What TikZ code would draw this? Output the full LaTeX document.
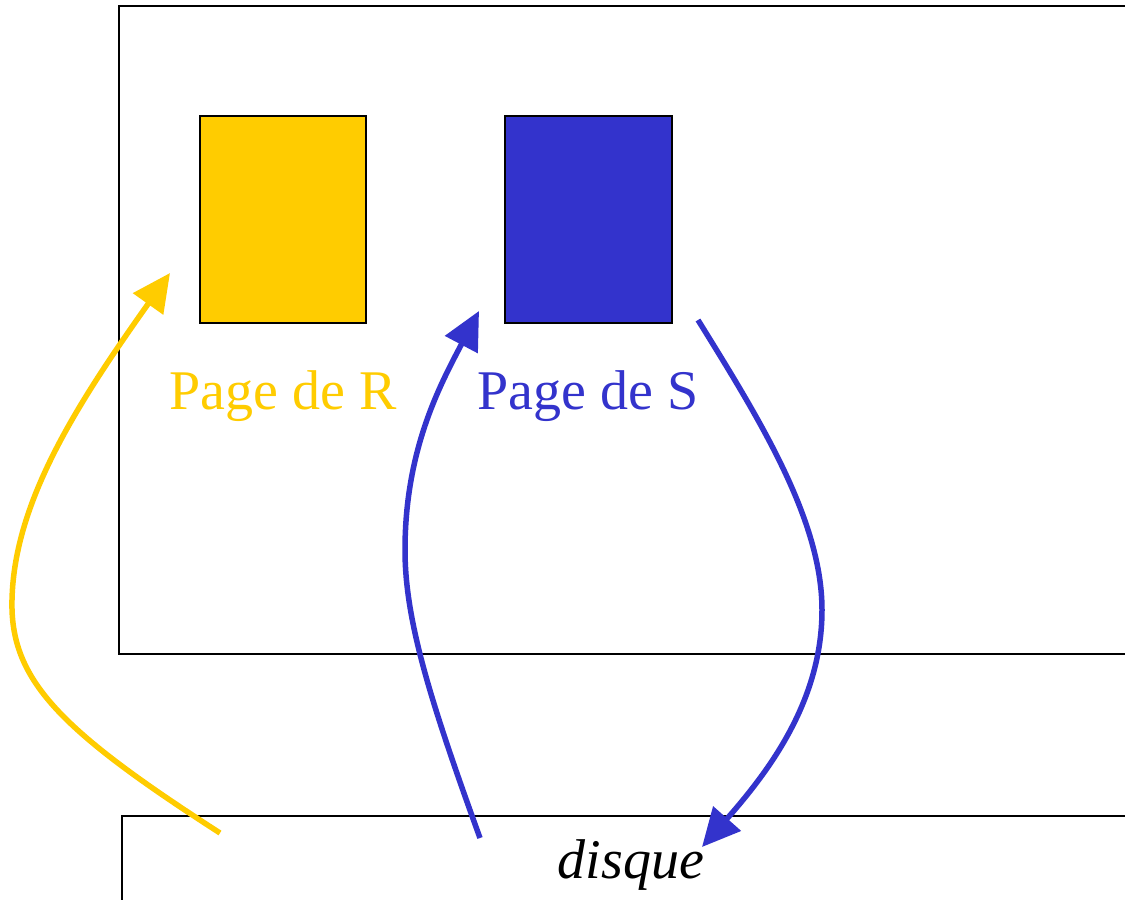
\documentclass[tikz,border=0pt]{standalone}
\usepackage{fontspec}
\setmainfont{Liberation Serif}
\usetikzlibrary{arrows.meta}
\definecolor{ryellow}{HTML}{FFCC00}
\definecolor{sblue}{HTML}{3333CC}
\tikzset{
  frame/.style={draw=black, line width=1.6pt},
  pagebox/.style={draw=black, line width=1.6pt},
  flow/.style={line width=5.5pt, -{Triangle[length=38pt,width=36pt]}},
  lbl/.style={font=\fontsize{56}{60}\selectfont, inner sep=0pt, anchor=base},
}
\begin{document}
\begin{tikzpicture}[x=1pt,y=-1pt]
\useasboundingbox (0,0) rectangle (1125,900);
\clip (0,0) rectangle (1125,900);
\fill[white] (0,0) rectangle (1125,900);
% memory frame
\draw[frame] (119,6) rectangle (1140,654);
% disk frame
\draw[frame] (122,816) rectangle (1140,920);
% pages
\filldraw[pagebox, fill=ryellow] (200,116) rectangle (366,323);
\filldraw[pagebox, fill=sblue] (505,116) rectangle (672,323);
\node[lbl, text=ryellow] (labR) at (283,409) {Page de R};
\node[lbl, text=sblue] (labS) at (588,409) {Page de S};
\node[lbl, text=black, font=\fontsize{56}{60}\selectfont\itshape] (disque) at (631,878) {disque};
% arrow endpoints
\coordinate (yS) at (220,833);
\coordinate (yE) at (170,273);
\coordinate (b1S) at (480,838);
\coordinate (b1E) at (479,311);
\coordinate (b2S) at (698,320);
\coordinate (b2E) at (702,847);
\draw[flow, ryellow] (yS) .. controls (60,730) and (10,680) .. (12,600)
   .. controls (14,500) and (80,400) .. (yE);
\draw[flow, sblue] (b1S) .. controls (430,700) and (405,620) .. (405,550)
   .. controls (405,450) and (440,385) .. (b1E);
\draw[flow, sblue] (b2S) .. controls (760,420) and (822,520) .. (822,610)
   .. controls (822,700) and (770,770) .. (b2E);
\end{tikzpicture}
\end{document}
